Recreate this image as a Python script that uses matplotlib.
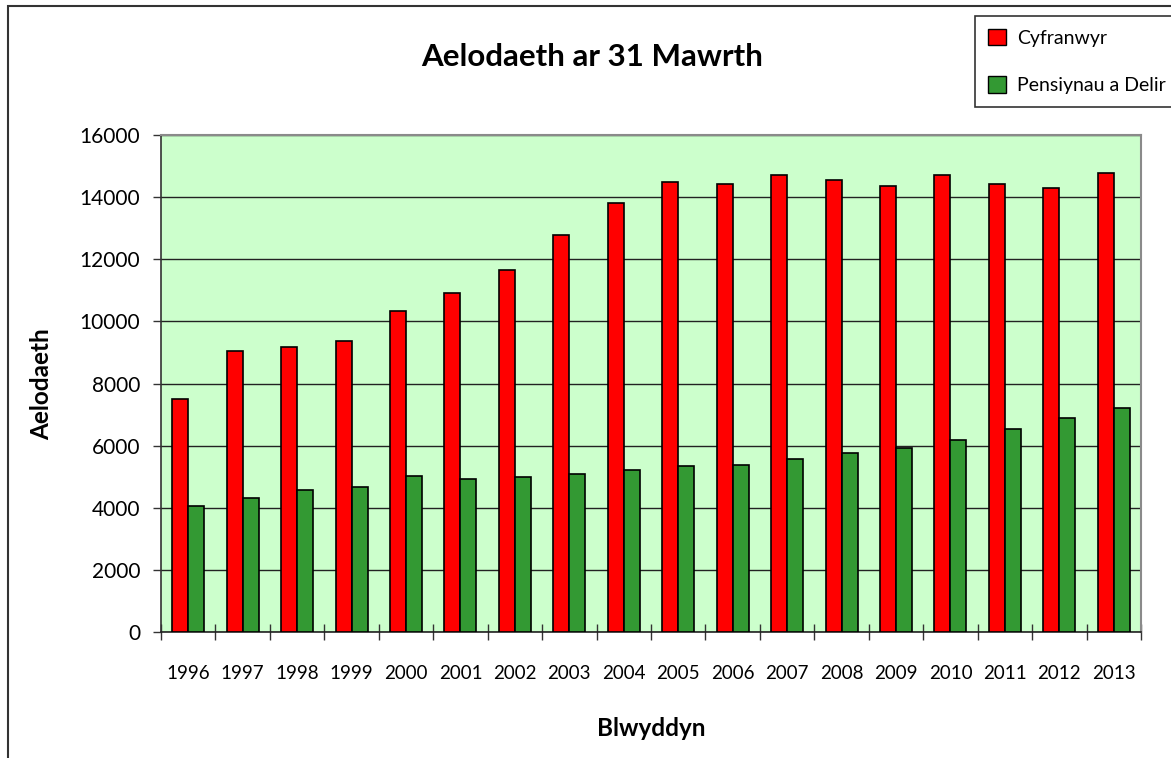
import matplotlib
matplotlib.use("Agg")
import matplotlib.pyplot as plt
import numpy as np
from matplotlib.patches import Rectangle, Patch

years = ["1996", "1997", "1998", "1999", "2000", "2001", "2002", "2003", "2004",
         "2005", "2006", "2007", "2008", "2009", "2010", "2011", "2012", "2013"]
cyfranwyr = [7500, 9060, 9190, 9370, 10330, 10920, 11650, 12780, 13810,
             14480, 14420, 14720, 14540, 14360, 14720, 14420, 14290, 14790]
pensiynau = [4070, 4300, 4560, 4670, 5020, 4920, 4980, 5100, 5220,
             5340, 5390, 5570, 5760, 5930, 6170, 6530, 6900, 7210]
yticks = [0, 2000, 4000, 6000, 8000, 10000, 12000, 14000, 16000]

plt.rcParams["font.family"] = ["Lato", "DejaVu Sans"]

W, H = 1171, 758
fig = plt.figure(figsize=(W / 100, H / 100), dpi=100)
ax = fig.add_axes([161 / W, 1 - 632 / H, (1141 - 161) / W, (632 - 135) / H])
ax.set_facecolor("#CCFFCC")

x = np.arange(len(years))
w = 0.294
ax.bar(x - w / 2, cyfranwyr, w, color="#FF0000", edgecolor="black", linewidth=1.2, zorder=3)
ax.bar(x + w / 2, pensiynau, w, color="#339933", edgecolor="black", linewidth=1.2, zorder=3)

ax.set_xlim(-0.5, len(years) - 0.5)
ax.set_ylim(0, 16000)
ax.set_yticks(yticks)
ax.set_yticklabels([str(v) for v in yticks], fontsize=15)
ax.yaxis.grid(True, color="#222222", linewidth=1.0, zorder=1)
ax.set_axisbelow(True)

ax.set_xticks(x)
ax.set_xticklabels(years, fontsize=13.5)
ax.set_xticks(np.arange(len(years) + 1) - 0.5, minor=True)
ax.tick_params(axis="x", which="major", length=0, pad=24)
ax.tick_params(axis="x", which="minor", direction="inout", length=11, width=1, color="#333333")
ax.tick_params(axis="y", direction="out", length=6, width=1, color="#333333", pad=9)

for s in ["top", "right"]:
    ax.spines[s].set_color("#8a8a8a")
    ax.spines[s].set_linewidth(1.5)
ax.spines["left"].set_color("#333333")
ax.spines["left"].set_linewidth(1.2)
ax.spines["bottom"].set_color("#222222")
ax.spines["bottom"].set_linewidth(1.2)

fig.text(592 / W, 1 - 57 / H, "Aelodaeth ar 31 Mawrth", fontsize=22.5, fontweight="bold",
         ha="center", va="center")
fig.text(651 / W, 1 - 728 / H, "Blwyddyn", fontsize=17.5, fontweight="bold",
         ha="center", va="center")
fig.text(42 / W, 1 - 384 / H, "Aelodaeth", fontsize=17.5, fontweight="bold",
         ha="center", va="center", rotation=90)

# outer chart border (cropped at right and bottom)
fig.patches.append(Rectangle((8 / W, -0.1), 1.2, 1.1 - 6 / H,
                             transform=fig.transFigure, fill=False,
                             edgecolor="#333333", linewidth=1.5))

handles = [Patch(facecolor="#FF0000", edgecolor="black", label="Cyfranwyr"),
           Patch(facecolor="#339933", edgecolor="black", label="Pensiynau a Delir")]
leg = fig.legend(handles=handles, loc="upper left", bbox_to_anchor=(975 / W, 1 - 16 / H),
                 fontsize=14, frameon=True, fancybox=False, labelspacing=1.5,
                 handlelength=0.95, handleheight=0.95, handletextpad=0.55,
                 borderpad=0.65, borderaxespad=0)
leg.get_frame().set_edgecolor("black")
leg.get_frame().set_linewidth(1.2)

fig.savefig("out.png", dpi=100)
